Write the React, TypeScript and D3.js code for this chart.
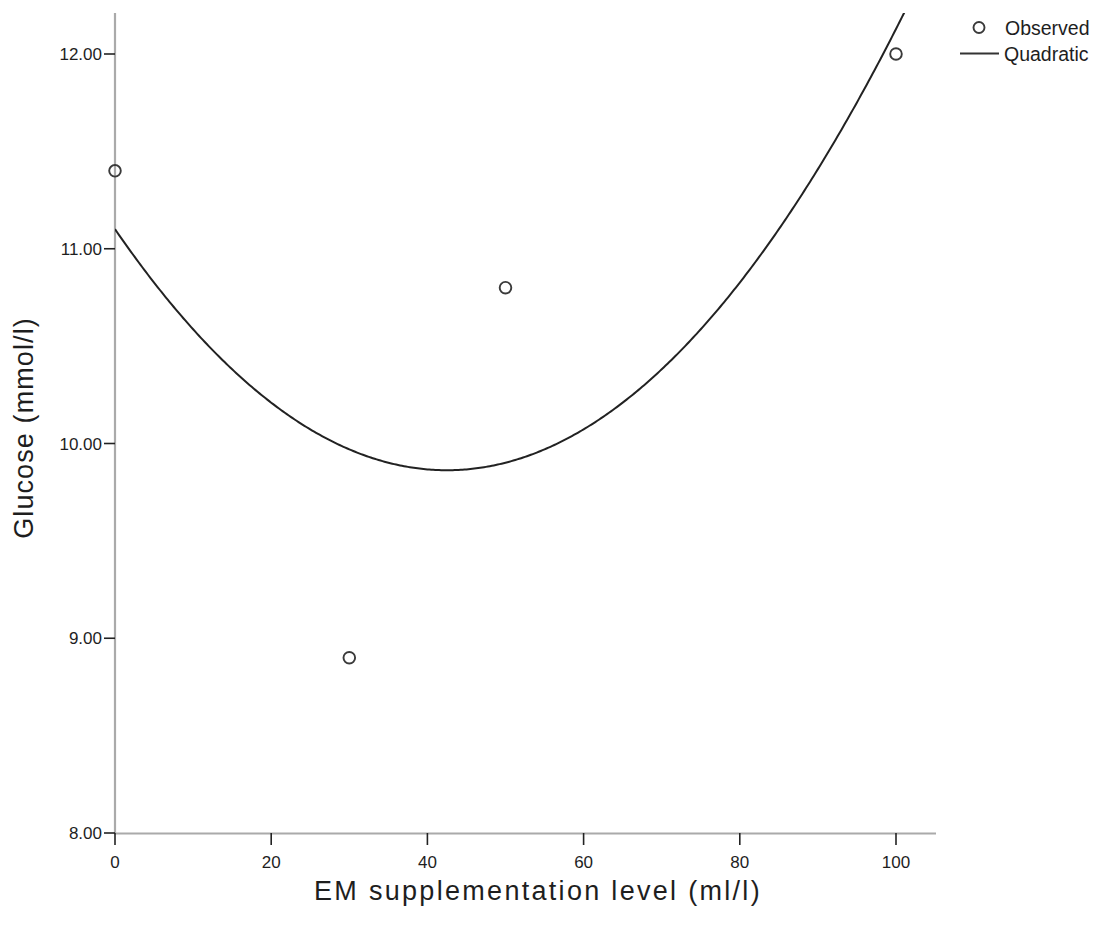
import React from "react";
import * as d3 from "d3";

const emLevels = [0, 30, 50, 100];
const glucose = [11.4, 8.9, 10.8, 12.0];
const xTicks = [0, 20, 40, 60, 80, 100];
const yTicks = [8, 9, 10, 11, 12];
const legendLabels = ["Observed", "Quadratic"];

// least-squares quadratic fit y = a + b x + c x^2 from the observed data
function quadFit(xs: number[], ys: number[]) {
  const S = (f: (x: number, y: number) => number) => xs.reduce((s, x, i) => s + f(x, ys[i]), 0);
  const n = xs.length;
  const sx = S((x) => x), sx2 = S((x) => x * x), sx3 = S((x) => x ** 3), sx4 = S((x) => x ** 4);
  const sy = S((_, y) => y), sxy = S((x, y) => x * y), sx2y = S((x, y) => x * x * y);
  const M = [
    [n, sx, sx2, sy],
    [sx, sx2, sx3, sxy],
    [sx2, sx3, sx4, sx2y],
  ];
  for (let i = 0; i < 3; i++) {
    for (let k = i + 1; k < 3; k++) {
      const f = M[k][i] / M[i][i];
      for (let j = i; j < 4; j++) M[k][j] -= f * M[i][j];
    }
  }
  const r = [0, 0, 0];
  for (let i = 2; i >= 0; i--) {
    let s = M[i][3];
    for (let j = i + 1; j < 3; j++) s -= M[i][j] * r[j];
    r[i] = s / M[i][i];
  }
  return r;
}

export default function App() {
  const W = 1108, H = 931;
  const x = d3.scaleLinear().domain([0, 100]).range([115, 896]);
  const y = d3.scaleLinear().domain([8, 12]).range([833, 54]);
  const yTop = 13;
  const xRight = 936;
  const [a, b, c] = quadFit(emLevels, glucose);
  const f = (v: number) => a + b * v + c * v * v;
  const curvePts: [number, number][] = d3.range(0, 105.001, 0.25).map((v) => [v, f(v)]);
  const line = d3.line<[number, number]>().x((d) => x(d[0])).y((d) => y(d[1]));
  const font = "'Liberation Sans', Arial, sans-serif";
  const axisCol = "#aaaaaa";
  const tickCol = "#222";
  const txt = "#1e1e1e";

  return (
    <svg width={W} height={H} style={{ position: "absolute", left: 0, top: 0, background: "#fff" }} fontFamily={font}>
      <defs>
        <clipPath id="plotClip">
          <rect x={115} y={yTop} width={xRight - 115} height={833 - yTop} />
        </clipPath>
      </defs>
      {/* axes */}
      <line x1={115} x2={115} y1={yTop} y2={834} stroke={axisCol} strokeWidth={2.2} />
      <line x1={114} x2={xRight} y1={833.5} y2={833.5} stroke={axisCol} strokeWidth={2.2} />
      {yTicks.map((t) => (
        <g key={"y" + t}>
          <line x1={104} x2={115} y1={y(t)} y2={y(t)} stroke={tickCol} strokeWidth={1.6} />
          <text x={102} y={y(t)} dy="0.36em" textAnchor="end" fontSize={17} fill={txt}>
            {t.toFixed(2)}
          </text>
        </g>
      ))}
      {xTicks.map((t) => (
        <g key={"x" + t}>
          <line x1={x(t)} x2={x(t)} y1={833} y2={845} stroke={tickCol} strokeWidth={1.6} />
          <text x={x(t)} y={868} textAnchor="middle" fontSize={17} fill={txt}>
            {t}
          </text>
        </g>
      ))}
      <text x={538} y={900} textAnchor="middle" fontSize={27} letterSpacing={2.3} fill={txt}>
        EM supplementation level (ml/l)
      </text>
      <text
        transform={`translate(33, 428) rotate(-90)`}
        textAnchor="middle"
        fontSize={27}
        letterSpacing={1.1}
        fill={txt}
      >
        Glucose (mmol/l)
      </text>
      {/* fitted curve */}
      <path d={line(curvePts) || ""} fill="none" stroke="#222" strokeWidth={2} clipPath="url(#plotClip)" />
      {/* observed points */}
      {emLevels.map((v, i) => (
        <circle key={i} cx={x(v)} cy={y(glucose[i])} r={5.8} fill="none" stroke="#3a3a3a" strokeWidth={1.9} />
      ))}
      {/* legend */}
      <circle cx={979} cy={27.5} r={5.5} fill="none" stroke="#3a3a3a" strokeWidth={1.9} />
      <text x={1005} y={35} fontSize={19.5} fill={txt}>
        {legendLabels[0]}
      </text>
      <line x1={960} x2={999} y1={53.5} y2={53.5} stroke="#333" strokeWidth={2.2} />
      <text x={1004} y={61} fontSize={19.5} fill={txt}>
        {legendLabels[1]}
      </text>
    </svg>
  );
}
